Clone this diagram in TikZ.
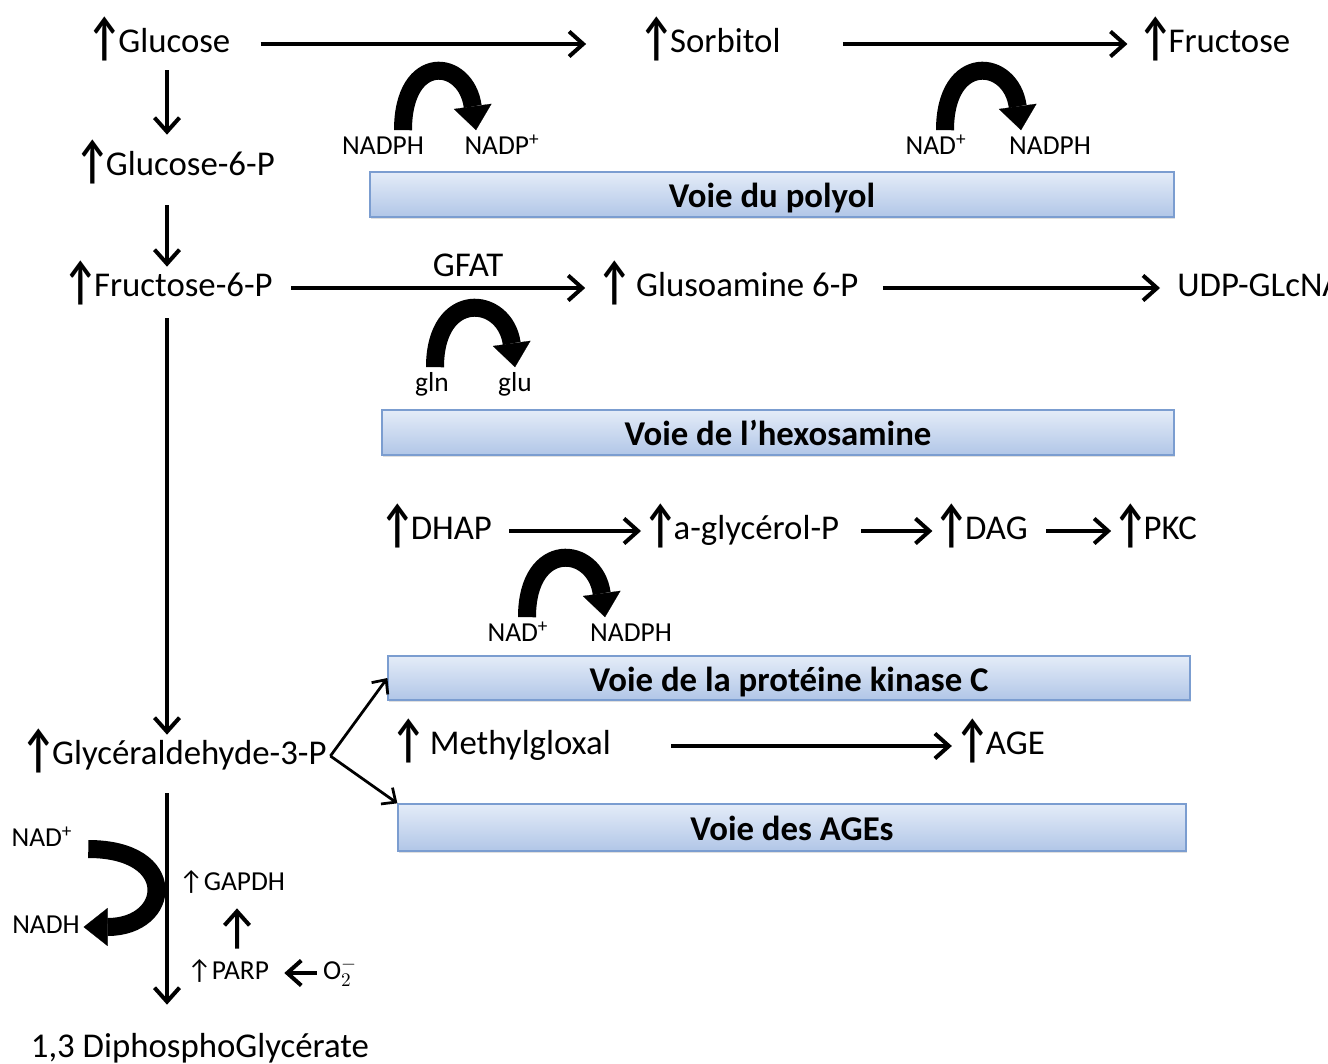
\documentclass[tikz,border=0pt]{standalone}
\usepackage{fontspec}
\setmainfont{Carlito}
\usepackage{tikz}
\usetikzlibrary{
  arrows.meta,
  shadows,
}
\definecolor{boxTop}{HTML}{E4ECF8}
\definecolor{boxBottom}{HTML}{B1C6E7}
\definecolor{boxEdge}{HTML}{7B9DD0}
\newcommand{\bigtxt}{\fontsize{19.8}{23}\selectfont}
\newcommand{\smalltxt}{\fontsize{15.6}{18}\selectfont}
% tall bold up arrow in front of a metabolite
\newcommand{\up}{\kern-0.05em\raisebox{-0.07em}{\scalebox{1.1}[1.5]{\bfseries ↑}}\kern-0.12em}
\tikzset{
  metab/.style={
    rectangle, inner sep=2pt, font=\bigtxt,
    text height=14.9pt, text depth=5pt,
  },
  cofac/.style={
    rectangle, inner sep=2pt, font=\smalltxt,
    text height=11.9pt, text depth=4pt,
  },
  pathbox/.style={
    rectangle, draw=boxEdge, line width=0.8pt, inner sep=0pt,
    top color=boxTop, bottom color=boxBottom, font=\bigtxt\bfseries,
    text height=14.9pt, text depth=0pt,
    drop shadow={opacity=0.25, shadow xshift=0.8pt, shadow yshift=-1.2pt},
  },
  flow/.style={
    -{Straight Barb[length=2.8mm,width=5mm]}, line width=0.8mm,
  },
  thinflow/.style={
    -{Straight Barb[length=2.2mm,width=4mm]}, line width=0.55mm,
  },
  cofarrow/.style={
    -{Triangle[length=4.8mm,width=7.6mm,line width=0.1pt]}, line width=3.6mm,
  },
}

\begin{document}
\begin{tikzpicture}[x=0.02cm, y=-0.02cm]
\useasboundingbox (0,0) rectangle (1328,1064);
\clip (0,0) rectangle (1328,1064);

% Left column: glycolysis
\coordinate (axis) at (167,0);
\node[metab] (glucose) at (160,44) {\up Glucose};
\node[metab] (g6p) at (176,167) {\up Glucose-6-P};
\node[metab] (f6p) at (169,288) {\up Fructose-6-P};
\node[metab] (g3p) at (175,756) {\up Glycéraldehyde-3-P};
\node[metab] (dpg) at (200,1049) {1,3 DiphosphoGlycérate};

\draw[flow, shorten <=1mm, shorten >=2.2mm]
   (glucose.south -| axis) -- (g6p.north -| axis);
\draw[flow, shorten <=3.4mm]
   (g6p.south -| axis) -- (f6p.north -| axis);
\draw[flow, shorten <=1.8mm]
   (f6p.south -| axis) -- (g3p.north -| axis);
\draw[flow, shorten <=3.2mm, shorten >=4.6mm]
   (g3p.south -| axis) -- (dpg.north -| axis);

% Polyol pathway
\node[metab] (sorbitol) at (711,44) {\up Sorbitol};
\node[metab] (fructose) at (1215,44) {\up Fructose};
\draw[flow, shorten <=5.3mm, shorten >=10.3mm] (glucose.east) -- (sorbitol.west);
\draw[flow, shorten <=11.7mm, shorten >=1.7mm] (sorbitol.east) -- (fructose.west);

\node[cofac] (nadphA) at (383,148) {NADPH};
\node[cofac] (nadpA) at (502,148) {NADP\textsuperscript{+}};
\draw[cofarrow] ([xshift=4mm]nadphA.north)
   .. controls +(0,-78) and +(-10,-72) .. ([xshift=-5.2mm]nadpA.north);
\node[cofac] (nadB) at (936,148) {NAD\textsuperscript{+}};
\node[cofac] (nadphB) at (1050,148) {NADPH};
\draw[cofarrow] ([xshift=1.8mm]nadB.north)
   .. controls +(0,-78) and +(-10,-72) .. ([xshift=-5.8mm]nadphB.north);

\node[pathbox, minimum width=16.08cm, minimum height=0.9cm] (polyol)
   at (772,194.5) {Voie du polyol};

% Hexosamine pathway
\node[metab] (glusoamine) at (729,288) {\up\ Glusoamine 6-P};
\node[metab, anchor=west] (udp) at (1173.5,288) {UDP-GLcNAc};
\draw[flow, shorten <=2.9mm, shorten >=2.1mm] (f6p.east)
   -- node[metab, pos=0.6, above=-0.6mm] (gfat) {GFAT} (glusoamine.west);
\draw[flow, shorten <=4.1mm, shorten >=2.7mm] (glusoamine.east) -- (udp.west);

\node[cofac] (gln) at (432,385) {gln};
\node[cofac] (glu) at (515,385) {glu};
\draw[cofarrow] ([xshift=0.6mm]gln.north)
   .. controls +(0,-78) and +(-10,-72) .. (glu.north);

\node[pathbox, minimum width=15.84cm, minimum height=0.9cm] (hexbox)
   at (778,432.5) {Voie de l’hexosamine};

% Protein kinase C pathway
\node[metab] (dhap) at (437,531) {\up DHAP};
\node[metab] (agp) at (742,531) {\up a-glycérol-P};
\node[metab] (dag) at (982,531) {\up DAG};
\node[metab] (pkc) at (1156,531) {\up PKC};
\draw[flow, shorten <=2.7mm] (dhap.east) -- (agp.west);
\draw[flow, shorten <=3.7mm] (agp.east) -- (dag.west);
\draw[flow, shorten <=2.9mm] (dag.east) -- (pkc.west);

\node[cofac] (nadC) at (518,635) {NAD\textsuperscript{+}};
\node[cofac] (nadphC) at (631,635) {NADPH};
\draw[cofarrow] ([xshift=1.8mm]nadC.north)
   .. controls +(0,-78) and +(-10,-72) .. ([xshift=-5.2mm]nadphC.north);

\node[pathbox, minimum width=16.04cm, minimum height=0.88cm] (pkcbox)
   at (789,678) {Voie de la protéine kinase C};

% AGE pathway
\node[metab] (methyl) at (502,746) {\up\ Methylgloxal};
\node[metab] (age) at (1001,746) {\up AGE};
\draw[flow, shorten <=11.3mm, shorten >=0.3mm] (methyl.east) -- (age.west);

\node[pathbox, minimum width=15.76cm, minimum height=0.94cm] (agesbox)
   at (792,827.5) {Voie des AGEs};

\draw[thinflow] (g3p.east) -- (pkcbox.west);
\draw[thinflow] (g3p.east) -- (agesbox.north west);

% GAPDH step
\node[cofac] (nadD) at (42,840) {NAD\textsuperscript{+}};
\node[cofac] (nadhD) at (46,927) {NADH};
\draw[cofarrow] ([shift={(12,9)}]nadD.east)
   .. controls +(92,0) and +(88,0) .. (nadhD.east);

\node[cofac] (gapdh) at (232,884) {↑GAPDH};
\node[cofac] (parp) at (228,973) {↑PARP};
\node[cofac] (o2) at (340,973) {$\mathrm{O}_2^-$};
\draw[flow, shorten <=1.3mm, shorten >=1.3mm]
   ([xshift=1.8mm]parp.north) -- ([xshift=1mm]gapdh.south);
\draw[flow, shorten <=0.5mm, shorten >=2.3mm] (o2.west) -- (parp.east);

\end{tikzpicture}
\end{document}
